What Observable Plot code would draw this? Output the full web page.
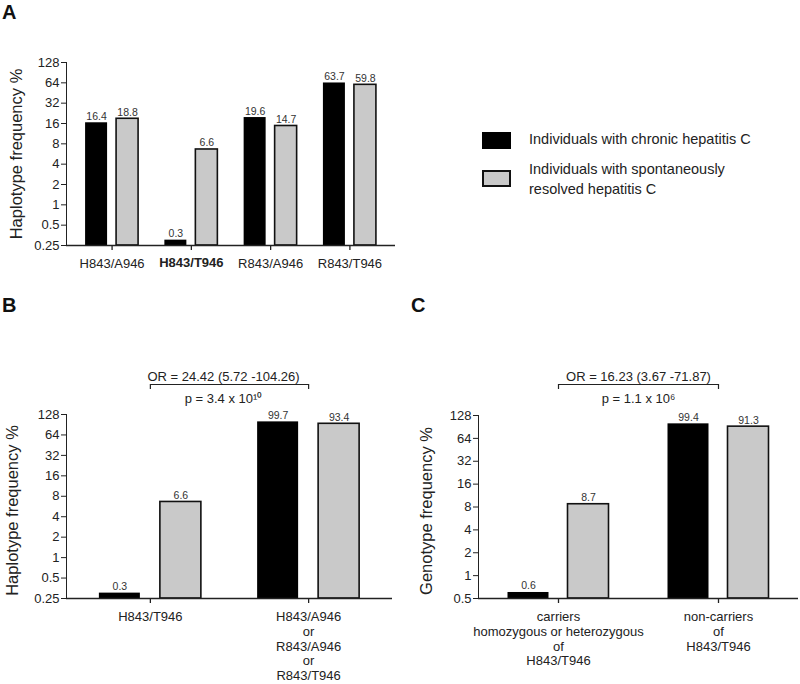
<!DOCTYPE html>
<html>
<head>
<meta charset="utf-8">
<script src="https://cdn.jsdelivr.net/npm/d3@7"></script>
<script src="https://cdn.jsdelivr.net/npm/@observablehq/plot@0.6"></script>
<style>
  html, body { margin: 0; padding: 0; background: #fff; }
  #root { position: relative; width: 800px; height: 684px; overflow: hidden; font-family: "Liberation Sans", Arial, sans-serif; color: #222; }
  .panel { position: absolute; }
  .letter { position: absolute; font-weight: bold; font-size: 20px; line-height: 1; color: #111; }
  .legend { position: absolute; left: 482px; top: 129px; font-size: 14.5px; line-height: 20px; color: #222; }
  .legend .row { position: relative; padding-left: 47px; }
  .legend .sw { position: absolute; left: 0; width: 29px; height: 17px; box-sizing: border-box; }
</style>
</head>
<body>
<div id="root">
  <div id="pa" class="panel" style="left:0;top:0"></div>
  <div id="pb" class="panel" style="left:0;top:340px"></div>
  <div id="pc" class="panel" style="left:400px;top:340px"></div>
  <div id="legend" class="legend"></div>
  <div class="letter" style="left:2px;top:2px">A</div>
  <div class="letter" style="left:2px;top:295px">B</div>
  <div class="letter" style="left:411px;top:295px">C</div>
</div>
<script>
// ---------- data ----------
const seriesNames = ["Individuals with chronic hepatitis C", "Individuals with spontaneously\nresolved hepatitis C"];
const seriesColors = ["#000000", "#c9c9c9"];

const catsA = ["H843/A946", "H843/T946", "R843/A946", "R843/T946"];
const chronicA = [16.4, 0.3, 19.6, 63.7];
const resolvedA = [18.8, 6.6, 14.7, 59.8];
const boldCatA = "H843/T946";
const ticksA = [0.25, 0.5, 1, 2, 4, 8, 16, 32, 64, 128];
const labelA = "Haplotype frequency %";

const catsB = ["H843/T946", "H843/A946\nor\nR843/A946\nor\nR843/T946"];
const chronicB = [0.3, 99.7];
const resolvedB = [6.6, 93.4];
const ticksB = [0.25, 0.5, 1, 2, 4, 8, 16, 32, 64, 128];
const labelB = "Haplotype frequency %";
const statsB = ["OR = 24.42 (5.72 -104.26)", "p = 3.4 x 10\u00B9\u2070"];

const catsC = ["carriers\nhomozygous or heterozygous\nof\nH843/T946", "non-carriers\nof\nH843/T946"];
const chronicC = [0.6, 99.4];
const resolvedC = [8.7, 91.3];
const ticksC = [0.5, 1, 2, 4, 8, 16, 32, 64, 128];
const labelC = "Genotype frequency %";
const statsC = ["OR = 16.23 (3.67 -71.87)", "p = 1.1 x 10\u2076"];

// ---------- drawing ----------
const FONT = "'Liberation Sans', Arial, Helvetica, sans-serif";
const INK = "#222";

function panel(o) {
  const rows = o.cats.map((c, i) => ({cat: c, chronic: o.chronic[i], resolved: o.resolved[i]}));
  const n = o.cats.length;
  const W = o.width - o.mL - o.mR;
  const step = W / (n + o.pad);
  const bw = step * (1 - o.pad);
  const outer = (bw - (2 * o.barW + o.gap)) / 2;
  const yMin = o.ticks[0], yMax = o.ticks[o.ticks.length - 1];
  const shift = (o.barW + o.gap) / 2;

  const marks = [
    Plot.barY(rows, {x: "cat", y1: () => yMin, y2: "chronic", fill: seriesColors[0],
      insetLeft: outer, insetRight: bw - outer - o.barW}),
    Plot.barY(rows, {x: "cat", y1: () => yMin, y2: "resolved", fill: seriesColors[1], stroke: "#111", strokeWidth: 1.6,
      insetLeft: outer + o.barW + o.gap, insetRight: outer}),
    Plot.text(rows, {x: "cat", y: "chronic", text: d => String(d.chronic), dx: -shift, dy: -3, lineAnchor: "bottom", fontSize: 10.5, fill: "#333"}),
    Plot.text(rows, {x: "cat", y: "resolved", text: d => String(d.resolved), dx: shift, dy: -3, lineAnchor: "bottom", fontSize: 10.5, fill: "#333"}),
    Plot.ruleY([yMin], {stroke: INK, strokeWidth: 1.5}),
    Plot.text([o.label], {frameAnchor: "left", rotate: -90, textAnchor: "middle", lineAnchor: "middle",
      dx: o.labelDx, dy: o.labelDy || 0, fontSize: 16.5, fill: INK})
  ];
  const normal = o.cats.filter(c => c !== o.bold);
  marks.push(Plot.axisX(normal, {tickSize: 5, tickPadding: o.tickPad, label: null, lineHeight: 1.14, fontSize: 13, stroke: INK, strokeWidth: 1.3}));
  if (o.bold) marks.push(Plot.axisX([o.bold], {tickSize: 5, tickPadding: o.tickPad, label: null, fontSize: 13, fontWeight: "bold", stroke: INK, strokeWidth: 1.3}));
  if (o.stats) {
    const br = [{a: o.cats[0], b: o.cats[1], y: yMax}];
    marks.push(
      Plot.link(br, {x1: "a", x2: "b", y1: "y", y2: "y", dy: o.brDy, stroke: INK, strokeWidth: 1.2}),
      Plot.ruleX([o.cats[0], o.cats[1]], {x: d => d, y1: () => yMax, y2: () => yMax, insetTop: 0, insetBottom: -5, dy: o.brDy, stroke: INK, strokeWidth: 1.2}),
      Plot.text([o.stats[0]], {frameAnchor: "top", textAnchor: "middle", lineAnchor: "middle", dx: o.statDx, dy: o.brDy - 8, fontSize: 13, fill: INK}),
      Plot.text([o.stats[1]], {frameAnchor: "top", textAnchor: "middle", lineAnchor: "middle", dx: o.statDx, dy: o.brDy + 14, fontSize: 13, fill: INK})
    );
  }
  return Plot.plot({
    width: o.width, height: o.height,
    marginLeft: o.mL, marginRight: o.mR, marginTop: o.mT, marginBottom: o.mB,
    style: {fontFamily: FONT, fontSize: "13px", color: INK, background: "transparent", overflow: "visible"},
    x: {type: "band", domain: o.cats, padding: o.pad, round: false},
    y: {type: "log", base: 2, domain: [yMin, yMax], ticks: o.ticks, tickFormat: d => String(d),
        tickSize: 5, tickPadding: 2, label: null, line: true},
    marks
  });
}

document.getElementById("pa").appendChild(panel({
  cats: catsA, chronic: chronicA, resolved: resolvedA, ticks: ticksA, label: labelA, bold: boldCatA,
  width: 400, height: 290, mL: 66, mR: 5, mT: 62, mB: 45, pad: 0.15, barW: 22, gap: 9, tickPad: 7, labelDx: -50
}));
document.getElementById("pb").appendChild(panel({
  cats: catsB, chronic: chronicB, resolved: resolvedB, ticks: ticksB, label: labelB, stats: statsB,
  width: 400, height: 344, mL: 66, mR: 8, mT: 74, mB: 86, pad: 0.06, barW: 41, gap: 20, tickPad: 7, labelDx: -54, labelDy: 4,
  brDy: -30, statDx: -6
}));
document.getElementById("pc").appendChild(panel({
  cats: catsC, chronic: chronicC, resolved: resolvedC, ticks: ticksC, label: labelC, stats: statsC,
  width: 400, height: 344, mL: 78, mR: 2, mT: 75, mB: 86, pad: 0, barW: 41, gap: 19, tickPad: 7, labelDx: -52, labelDy: 4,
  brDy: -31, statDx: 0
}));

// legend
const leg = document.getElementById("legend");
seriesNames.forEach((name, i) => {
  const row = document.createElement("div");
  row.className = "row";
  row.style.marginBottom = i === 0 ? "10px" : "0";
  const sw = document.createElement("div");
  sw.className = "sw";
  sw.style.background = seriesColors[i];
  sw.style.top = i === 0 ? "3px" : "11px";
  if (i === 1) sw.style.border = "2px solid #111";
  row.appendChild(sw);
  name.split("\n").forEach(line => {
    const t = document.createElement("div");
    t.textContent = line;
    row.appendChild(t);
  });
  leg.appendChild(row);
});
</script>
</body>
</html>
